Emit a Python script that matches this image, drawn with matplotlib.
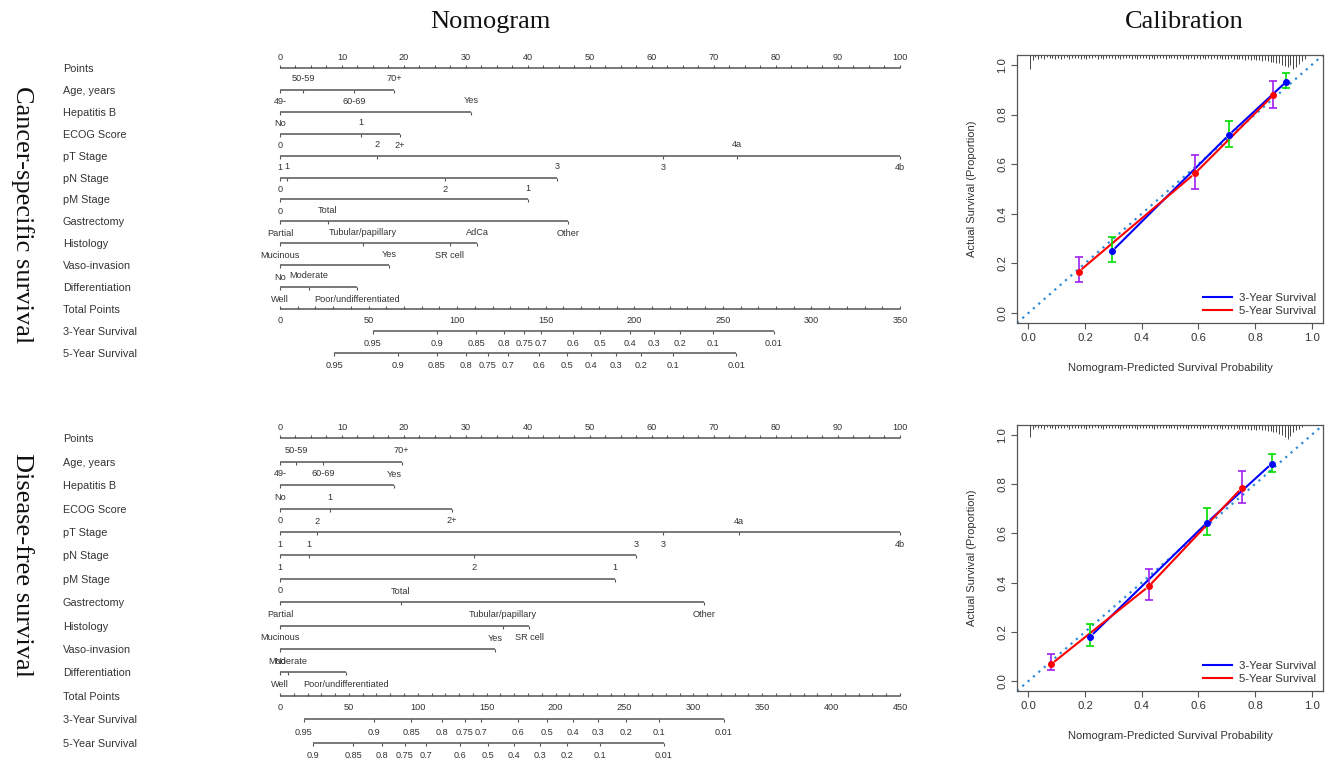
import numpy as np
import matplotlib
matplotlib.use("Agg")
import matplotlib.pyplot as plt
from matplotlib.lines import Line2D

plt.rcParams['font.family'] = ['Liberation Sans', 'DejaVu Sans']

W, H = 1330, 760
PT0_PX, PT100_PX = 280, 900   # pixel x of 0 and 100 points on the nomograms
TXT = '#333333'
LINE = '#555555'

row_names = ["Points", "Age, years", "Hepatitis B", "ECOG Score", "pT Stage",
             "pN Stage", "pM Stage", "Gastrectomy", "Histology", "Vaso-invasion",
             "Differentiation", "Total Points", "3-Year Survival", "5-Year Survival"]

# ---- Cancer-specific survival nomogram (level, points) ----
css_age = [("49-", 0), ("50-59", 3.7), ("60-69", 11.9), ("70+", 18.4)]
css_hbv = [("No", 0), ("Yes", 30.8)]
css_ecog = [("0", 0), ("1", 13.1), ("2+", 19.3)]
css_pt = [("1", 0), ("2", 15.6), ("3", 61.8), ("4a", 73.7), ("4b", 100)]
css_pn = [("0", 0), ("1", 1.1), ("2", 26.6), ("3", 44.7)]
css_pm = [("0", 0), ("1", 40.0)]
css_gastr = [("Partial", 0), ("Total", 7.7), ("Other", 46.4)]
css_hist = [("Mucinous", 0), ("Tubular/papillary", 13.4), ("SR cell", 27.4), ("AdCa", 31.8)]
css_vaso = [("No", 0), ("Yes", 17.6)]
css_diff = [("Well", 0), ("Moderate", 4.7), ("Poor/undifferentiated", 12.4)]
css_total_max = 350
css_surv3_labels = ["0.95", "0.9", "0.85", "0.8", "0.75", "0.7", "0.6", "0.5",
                    "0.4", "0.3", "0.2", "0.1", "0.01"]
css_surv3_total = [52.5, 88.6, 110.7, 126.5, 137.8, 147.4, 165.4, 180.7,
                   197.6, 211.2, 225.9, 244.5, 278.9]
css_surv5_labels = ["0.95", "0.9", "0.85", "0.8", "0.75", "0.7", "0.6", "0.5",
                    "0.4", "0.3", "0.2", "0.1", "0.01"]
css_surv5_total = [30.5, 66.6, 88.6, 105.0, 117.4, 128.7, 146.2, 162.0,
                   175.6, 189.7, 203.8, 221.9, 257.5]

# ---- Disease-free survival nomogram ----
dfs_age = [("49-", 0), ("50-59", 2.6), ("60-69", 6.9), ("70+", 19.6)]
dfs_hbv = [("No", 0), ("Yes", 18.4)]
dfs_ecog = [("0", 0), ("1", 8.1), ("2+", 27.7)]
dfs_pt = [("1", 0), ("2", 6.0), ("3", 61.8), ("4a", 74.0), ("4b", 100)]
dfs_pn = [("1", 0), ("1", 4.7), ("2", 31.3), ("3", 57.4)]
dfs_pm = [("0", 0), ("1", 54.0)]
dfs_gastr = [("Partial", 0), ("Total", 19.5), ("Other", 68.4)]
dfs_hist = [("Mucinous", 0), ("Tubular/papillary", 36.0), ("SR cell", 40.2)]
dfs_vaso = [("No", 0), ("Yes", 34.7)]
dfs_diff = [("Well", 0), ("Moderate", 1.3), ("Poor/undifferentiated", 10.6)]
dfs_total_max = 450
dfs_surv3_labels = ["0.95", "0.9", "0.85", "0.8", "0.75", "0.7", "0.6", "0.5",
                    "0.4", "0.3", "0.2", "0.1", "0.01"]
dfs_surv3_total = [17.4, 68.2, 95.1, 117.6, 134.3, 145.9, 172.7, 193.8,
                   212.6, 230.8, 251.1, 275.0, 322.2]
dfs_surv5_labels = ["0.9", "0.85", "0.8", "0.75", "0.7", "0.6", "0.5",
                    "0.4", "0.3", "0.2", "0.1", "0.01"]
dfs_surv5_total = [24.0, 53.0, 74.0, 90.7, 105.9, 130.6, 150.9,
                   169.8, 188.7, 208.3, 232.2, 278.7]

# ---- Calibration data ----
css_pred3 = [0.296, 0.708, 0.911]
css_obs3 = [0.250, 0.718, 0.933]
css_lo3 = [0.205, 0.671, 0.906]
css_hi3 = [0.307, 0.774, 0.967]
css_pred5 = [0.178, 0.588, 0.865]
css_obs5 = [0.167, 0.563, 0.879]
css_lo5 = [0.124, 0.501, 0.827]
css_hi5 = [0.226, 0.637, 0.936]

dfs_pred3 = [0.219, 0.631, 0.859]
dfs_obs3 = [0.181, 0.644, 0.883]
dfs_lo3 = [0.144, 0.593, 0.848]
dfs_hi3 = [0.233, 0.702, 0.924]
dfs_pred5 = [0.081, 0.425, 0.753]
dfs_obs5 = [0.069, 0.385, 0.784]
dfs_lo5 = [0.046, 0.328, 0.725]
dfs_hi5 = [0.110, 0.457, 0.852]

# spike lengths of the predicted-probability rug (bins of 0.01)
rug_bins = np.arange(0.005, 0.99, 0.01)
css_rug = [0.055, 0.020, 0.010, 0.015, 0.012, 0.018, 0.010, 0.014, 0.012, 0.016,
           0.011, 0.015, 0.012, 0.010, 0.016, 0.012, 0.014, 0.011, 0.015, 0.012,
           0.017, 0.012, 0.014, 0.010, 0.015, 0.013, 0.016, 0.011, 0.014, 0.012,
           0.015, 0.012, 0.016, 0.011, 0.014, 0.013, 0.015, 0.012, 0.016, 0.011,
           0.014, 0.012, 0.015, 0.013, 0.016, 0.012, 0.014, 0.011, 0.015, 0.013,
           0.014, 0.012, 0.016, 0.013, 0.015, 0.012, 0.017, 0.013, 0.015, 0.014,
           0.016, 0.013, 0.015, 0.014, 0.017, 0.013, 0.016, 0.014, 0.018, 0.015,
           0.016, 0.014, 0.018, 0.015, 0.017, 0.016, 0.019, 0.017, 0.020, 0.018,
           0.022, 0.020, 0.024, 0.022, 0.026, 0.028, 0.030, 0.034, 0.032, 0.040,
           0.045, 0.050, 0.042, 0.055, 0.048, 0.035, 0.025, 0.015, 0.000]
dfs_rug = [0.050, 0.018, 0.010, 0.014, 0.012, 0.016, 0.010, 0.013, 0.011, 0.015,
           0.012, 0.014, 0.011, 0.010, 0.015, 0.012, 0.013, 0.011, 0.014, 0.012,
           0.016, 0.012, 0.013, 0.010, 0.014, 0.012, 0.015, 0.011, 0.013, 0.012,
           0.014, 0.012, 0.015, 0.011, 0.013, 0.012, 0.014, 0.012, 0.015, 0.011,
           0.013, 0.012, 0.014, 0.012, 0.015, 0.012, 0.013, 0.011, 0.014, 0.012,
           0.013, 0.012, 0.015, 0.012, 0.014, 0.012, 0.016, 0.012, 0.014, 0.013,
           0.015, 0.012, 0.014, 0.013, 0.016, 0.012, 0.015, 0.013, 0.016, 0.014,
           0.015, 0.013, 0.017, 0.014, 0.016, 0.015, 0.018, 0.016, 0.019, 0.017,
           0.020, 0.018, 0.022, 0.020, 0.024, 0.026, 0.028, 0.030, 0.035, 0.040,
           0.050, 0.055, 0.045, 0.030, 0.020, 0.015, 0.010, 0.000, 0.000]


def to_pt(px):
    return (px - PT0_PX) / (PT100_PX - PT0_PX) * 100


def draw_nomogram(ax, variables, total_max, surv3, surv5, row_y):
    kw = dict(ha='center', va='center', fontsize=6.6, color=TXT)
    # names on the left
    for name, y in zip(row_names, row_y):
        ax.text(to_pt(63), y + 1, name, ha='left', va='center', fontsize=7.8, color=TXT)

    # points scale
    y = row_y[0]
    ax.hlines(y, 0, 100, color=LINE, lw=1.1)
    ax.vlines(np.arange(0, 100.1, 2.5), y - 3, y, color=LINE, lw=0.8)
    for v in range(0, 101, 10):
        ax.text(v, y - 11, str(v), **kw)

    # variables: labels alternate below / above in order of points
    for i, levels in enumerate(variables):
        y = row_y[i + 1]
        pts = [p for _, p in levels]
        ax.hlines(y, 0, max(pts), color=LINE, lw=1.1)
        ax.vlines(pts, y, y + 3, color=LINE, lw=0.8)
        order = np.argsort(pts, kind='stable')
        for k, j in enumerate(order):
            lab, p = levels[j]
            dy = 12 if k % 2 == 0 else -11
            ax.text(p, y + dy, lab, **kw)

    # total points
    y = row_y[11]
    scale = 100 / total_max
    ax.hlines(y, 0, 100, color=LINE, lw=1.1)
    ax.vlines(np.arange(0, total_max + 1, 10) * scale, y - 3, y, color=LINE, lw=0.8)
    for v in range(0, total_max + 1, 50):
        ax.text(v * scale, y + 12, str(v), **kw)

    # survival scales
    for y, (labels, totals) in zip(row_y[12:], [surv3, surv5]):
        x = np.array(totals) * scale
        ax.hlines(y, x.min(), x.max(), color=LINE, lw=1.1)
        ax.vlines(x, y, y + 3, color=LINE, lw=0.8)
        for lab, xx in zip(labels, x):
            ax.text(xx, y + 13, lab, **kw)


def gapped_line(ax, xs, ys, color, gap=0.018):
    for k in range(len(xs) - 1):
        p0 = np.array([xs[k], ys[k]])
        p1 = np.array([xs[k + 1], ys[k + 1]])
        d = (p1 - p0) / np.linalg.norm(p1 - p0)
        a, b = p0 + d * gap, p1 - d * gap
        ax.plot([a[0], b[0]], [a[1], b[1]], color=color, lw=1.5)


def draw_calibration(ax, rug, p3, o3, lo3, hi3, p5, o5, lo5, hi5):
    ax.set_xlim(-0.04, 1.04)
    ax.set_ylim(-0.04, 1.04)
    ax.plot([-0.04, 1.04], [-0.04, 1.04], ls=(0, (1, 2.2)), color='#2f8ad8', lw=1.6)
    rug = np.array(rug)
    keep = rug > 0
    ax.vlines(rug_bins[keep], 1.04 - rug[keep], 1.04, color='#444444', lw=0.7)

    gapped_line(ax, p3, o3, '#0000ff')
    gapped_line(ax, p5, o5, '#ff0000')
    o3, o5 = np.array(o3), np.array(o5)
    ax.errorbar(p3, o3, yerr=[o3 - np.array(lo3), np.array(hi3) - o3], fmt='none',
                ecolor='#00dd00', elinewidth=1.2, capsize=3, capthick=1.2)
    ax.errorbar(p5, o5, yerr=[o5 - np.array(lo5), np.array(hi5) - o5], fmt='none',
                ecolor='#a020f0', elinewidth=1.2, capsize=3, capthick=1.2)
    ax.plot(p3, o3, 'o', color='#0000ff', ms=4)
    ax.plot(p5, o5, 'o', color='#ff0000', ms=4)

    ticks = [0.0, 0.2, 0.4, 0.6, 0.8, 1.0]
    ax.set_xticks(ticks)
    ax.set_yticks(ticks)
    ax.set_xticklabels([f"{t:.1f}" for t in ticks])
    ax.set_yticklabels([f"{t:.1f}" for t in ticks], rotation=90, va='center')
    ax.tick_params(direction='out', length=4, color='#555555', labelsize=8.2,
                   labelcolor=TXT, pad=3)
    for s in ax.spines.values():
        s.set_color('#555555')
        s.set_linewidth(0.9)

    handles = [Line2D([], [], color='#0000ff', lw=1.5),
               Line2D([], [], color='#ff0000', lw=1.5)]
    leg = ax.legend(handles, ["3-Year Survival", "5-Year Survival"], loc='lower right',
                    frameon=False, fontsize=8.2, handlelength=2.6, handletextpad=0.6,
                    borderaxespad=0.2, labelspacing=0.25)
    for t in leg.get_texts():
        t.set_color(TXT)


def main():
    fig = plt.figure(figsize=(W / 100, H / 100), dpi=100)

    # nomograms: x in points, y in pixel rows
    for (top, bot, rows0, step, variables, tmax, s3, s5) in [
        (35, 378, 68, 21.9,
         [css_age, css_hbv, css_ecog, css_pt, css_pn, css_pm, css_gastr, css_hist, css_vaso, css_diff],
         css_total_max, (css_surv3_labels, css_surv3_total), (css_surv5_labels, css_surv5_total)),
        (405, 760, 438.5, 23.4,
         [dfs_age, dfs_hbv, dfs_ecog, dfs_pt, dfs_pn, dfs_pm, dfs_gastr, dfs_hist, dfs_vaso, dfs_diff],
         dfs_total_max, (dfs_surv3_labels, dfs_surv3_total), (dfs_surv5_labels, dfs_surv5_total)),
    ]:
        ax = fig.add_axes([30 / W, 1 - bot / H, 905 / W, (bot - top) / H])
        ax.set_xlim(to_pt(30), to_pt(935))
        ax.set_ylim(bot, top)
        ax.axis('off')
        row_y = [rows0 + step * i for i in range(len(row_names))]
        draw_nomogram(ax, variables, tmax, s3, s5, row_y)

    # calibration plots
    ax1 = fig.add_axes([1017 / W, 1 - 323 / H, 306 / W, 268 / H])
    draw_calibration(ax1, css_rug, css_pred3, css_obs3, css_lo3, css_hi3,
                     css_pred5, css_obs5, css_lo5, css_hi5)
    ax2 = fig.add_axes([1017 / W, 1 - 691 / H, 306 / W, 266 / H])
    draw_calibration(ax2, dfs_rug, dfs_pred3, dfs_obs3, dfs_lo3, dfs_hi3,
                     dfs_pred5, dfs_obs5, dfs_lo5, dfs_hi5)

    lab_kw = dict(ha='center', va='center', fontsize=8.0, color=TXT)
    for ybot, ytop in [(323, 55), (691, 425)]:
        fig.text(1170 / W, 1 - (ybot + 45) / H, "Nomogram-Predicted Survival Probability", **lab_kw)
        fig.text(972 / W, 1 - (ybot + ytop) / 2 / H, "Actual Survival (Proportion)",
                 rotation=90, **lab_kw)

    serif = dict(family=['Liberation Serif', 'DejaVu Serif'], fontsize=19, color='#111111',
                 ha='center', va='center')
    fig.text(490 / W, 1 - 22 / H, "Nomogram", **serif)
    fig.text(1184 / W, 1 - 22 / H, "Calibration", **serif)
    fig.text(22 / W, 1 - 215 / H, "Cancer-specific survival", rotation=270, **serif)
    fig.text(22 / W, 1 - 565 / H, "Disease-free survival", rotation=270, **serif)

    fig.savefig("out.png", dpi=100, facecolor='white')


if __name__ == "__main__":
    main()
